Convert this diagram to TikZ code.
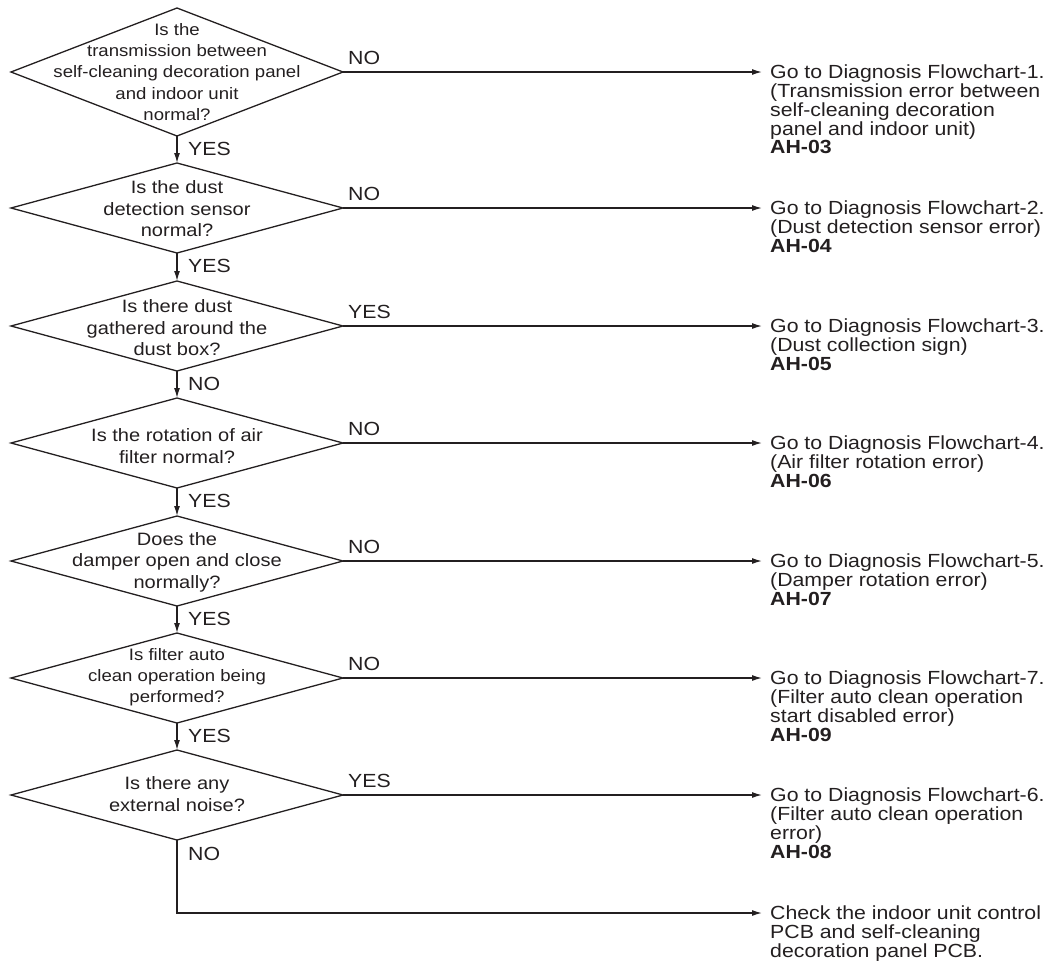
\documentclass[tikz,border=0pt]{standalone}
\usepackage{fontspec}
\setmainfont{Liberation Sans}[FakeStretch=1.12]
\usetikzlibrary{shapes.geometric,arrows.meta}
\definecolor{ink}{HTML}{231F20}
\tikzset{
  dec/.style={shape=diamond, draw=ink, line width=1.3pt, inner sep=0pt, outer sep=0pt,
              minimum width=332pt, minimum height=90pt},
  qtxt/.style={align=center, inner sep=0pt, text=ink, font={\fontsize{17.9}{21.5}\selectfont}},
  qsmall/.style={align=center, inner sep=0pt, text=ink, font={\fontsize{16.6}{21.3}\selectfont}},
  res/.style={align=left, anchor=north west, inner sep=0pt, text=ink, font={\fontsize{19}{18.7}\selectfont}},
  lbl/.style={anchor=base west, inner sep=0pt, text=ink, font={\fontsize{19}{19}\selectfont}},
  flow/.style={draw=ink, line width=1.3pt, -{Latex[length=10pt,width=6pt]}},
}
\begin{document}
\begin{tikzpicture}[x=1pt,y=-1pt]
\useasboundingbox (0,0) rectangle (1046,964);
% decisions
\node[dec, minimum height=128pt] (d1) at (177,72) {};
\node[dec] (d2) at (177,208) {};
\node[dec] (d3) at (177,326) {};
\node[dec] (d4) at (177,443) {};
\node[dec] (d5) at (177,561) {};
\node[dec] (d6) at (177,678) {};
\node[dec] (d7) at (177,795) {};
\node[qsmall] (t1) at (177,72) {Is the\\transmission between\\self-cleaning decoration panel\\and indoor unit\\normal?};
\node[qtxt] (t2) at (177,209) {Is the dust\\detection sensor\\normal?};
\node[qtxt] (t3) at (177,328) {Is there dust\\gathered around the\\dust box?};
\node[qtxt] (t4) at (177,446) {Is the rotation of air\\filter normal?};
\node[qtxt] (t5) at (177,562) {Does the\\damper open and close\\normally?};
\node[qsmall] (t6) at (177,677) {Is filter auto\\clean operation being\\performed?};
\node[qtxt] (t7) at (177,794) {Is there any\\external noise?};
% results
\node[res] (r1) at (770,65) {Go to Diagnosis Flowchart-1.\\(Transmission error between\\self-cleaning decoration\\panel and indoor unit)\\\textbf{AH-03}};
\node[res] (r2) at (770,201) {Go to Diagnosis Flowchart-2.\\(Dust detection sensor error)\\\textbf{AH-04}};
\node[res] (r3) at (770,319) {Go to Diagnosis Flowchart-3.\\(Dust collection sign)\\\textbf{AH-05}};
\node[res] (r4) at (770,436) {Go to Diagnosis Flowchart-4.\\(Air filter rotation error)\\\textbf{AH-06}};
\node[res] (r5) at (770,554) {Go to Diagnosis Flowchart-5.\\(Damper rotation error)\\\textbf{AH-07}};
\node[res] (r6) at (770,671) {Go to Diagnosis Flowchart-7.\\(Filter auto clean operation\\start disabled error)\\\textbf{AH-09}};
\node[res] (r7) at (770,788) {Go to Diagnosis Flowchart-6.\\(Filter auto clean operation\\error)\\\textbf{AH-08}};
\node[res] (r8) at (770,906) {Check the indoor unit control\\PCB and self-cleaning\\decoration panel PCB.};
% vertical flow
\draw[flow] (d1.south) -- (d2.north);
\draw[flow] (d2.south) -- (d3.north);
\draw[flow] (d3.south) -- (d4.north);
\draw[flow] (d4.south) -- (d5.north);
\draw[flow] (d5.south) -- (d6.north);
\draw[flow] (d6.south) -- (d7.north);
% horizontal flow
\draw[flow, shorten >=8pt] (d1.east) -- (d1.east -| r1.west);
\draw[flow, shorten >=8pt] (d2.east) -- (d2.east -| r2.west);
\draw[flow, shorten >=8pt] (d3.east) -- (d3.east -| r3.west);
\draw[flow, shorten >=8pt] (d4.east) -- (d4.east -| r4.west);
\draw[flow, shorten >=8pt] (d5.east) -- (d5.east -| r5.west);
\draw[flow, shorten >=8pt] (d6.east) -- (d6.east -| r6.west);
\draw[flow, shorten >=8pt] (d7.east) -- (d7.east -| r7.west);
\coordinate (bend) at (177,913);
\draw[flow, shorten >=8pt] (d7.south) -- (bend) -- (bend -| r8.west);
% labels
\node[lbl] (l1n) at (348,64) {NO};
\node[lbl] (l1y) at (188,155) {YES};
\node[lbl] (l2n) at (348,200) {NO};
\node[lbl] (l2y) at (188,272) {YES};
\node[lbl] (l3y) at (348,318) {YES};
\node[lbl] (l3n) at (188,390) {NO};
\node[lbl] (l4n) at (348,435) {NO};
\node[lbl] (l4y) at (188,507) {YES};
\node[lbl] (l5n) at (348,553) {NO};
\node[lbl] (l5y) at (188,625) {YES};
\node[lbl] (l6n) at (348,670) {NO};
\node[lbl] (l6y) at (188,742) {YES};
\node[lbl] (l7y) at (348,787) {YES};
\node[lbl] (l7n) at (188,860) {NO};
\end{tikzpicture}
\end{document}
